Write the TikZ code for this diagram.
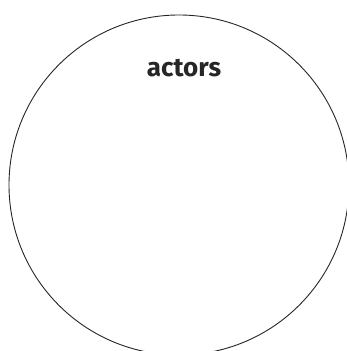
\documentclass[tikz,border=0pt]{standalone}
\usepackage{fontspec}
\setmainfont{Fira Sans}
\begin{document}
\begin{tikzpicture}[x=1pt,y=1pt,
  ring/.style={draw=black!85, line width=0.9pt},
  label/.style={font=\fontsize{26}{30}\selectfont\bfseries, text=black!85, inner sep=0pt, anchor=base}]
\useasboundingbox (0,0) rectangle (347,351);
\begin{scope}
\clip (0,0) rectangle (347,351);
\node[ring, circle, minimum size=340pt, inner sep=0pt] (c) at (179,166) {};
\end{scope}
\node[label] (t) at (184,274) {actors};
\end{tikzpicture}
\end{document}
